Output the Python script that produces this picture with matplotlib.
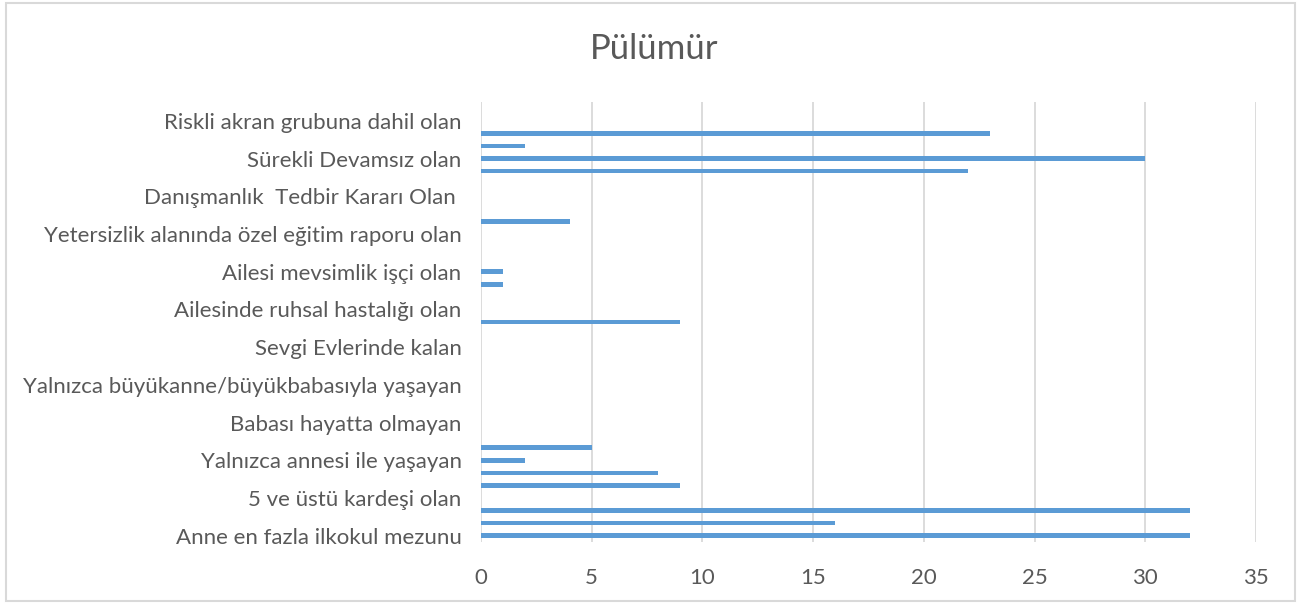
import matplotlib.pyplot as plt
from matplotlib.patches import Rectangle

plt.rcParams['font.family'] = ['Lato', 'DejaVu Sans']

# 35 categories, only every third one has its label shown in the original
categories = [
    "Anne en fazla ilkokul mezunu", "", "",
    "5 ve üstü kardeşi olan", "", "",
    "Yalnızca annesi ile yaşayan", "", "",
    "Babası hayatta olmayan", "", "",
    "Yalnızca büyükanne/büyükbabasıyla yaşayan", "", "",
    "Sevgi Evlerinde kalan", "", "",
    "Ailesinde ruhsal hastalığı olan", "", "",
    "Ailesi mevsimlik işçi olan", "", "",
    "Yetersizlik alanında özel eğitim raporu olan", "", "",
    "Danışmanlık  Tedbir Kararı Olan ", "", "",
    "Sürekli Devamsız olan", "", "",
    "Riskli akran grubuna dahil olan", "",
]
values = [32, 16, 32, 0, 9, 8, 2, 5, 0, 0,
          0, 0, 0, 0, 0, 0, 0, 9, 0, 0,
          1, 1, 0, 0, 0, 4, 0, 0, 0, 22,
          30, 2, 23, 0, 0]
xticks = [0, 5, 10, 15, 20, 25, 30, 35]

text_color = '#595959'
grid_color = '#D9D9D9'
bar_color = '#5B9BD5'

fig = plt.figure(figsize=(13.09, 6.04), dpi=100)
ax = fig.add_axes([481 / 1309, 1 - 542 / 604, (1256 - 481) / 1309, (542 - 102) / 604])

pos = list(range(len(categories)))
ax.barh(pos, values, height=0.36, color=bar_color, zorder=3)

ax.set_xlim(0, 35)
ax.set_ylim(-0.5, len(categories) - 0.5)
ax.set_xticks(xticks)
ax.set_xticklabels([str(t) for t in xticks])
ax.set_yticks(pos)
ax.set_yticklabels(categories)
ax.tick_params(axis='both', length=0, labelsize=16, colors=text_color)
ax.tick_params(axis='x', pad=19)
ax.tick_params(axis='y', pad=14)
ax.grid(axis='x', color=grid_color, linewidth=1.3, zorder=0)
for s in ax.spines.values():
    s.set_visible(False)

fig.text(0.5, 1 - 49 / 604, "Pülümür", ha='center', va='center',
         fontsize=25, color=text_color)

fig.patches.append(Rectangle((6 / 1309, 3 / 604), 1289 / 1309, 598 / 604,
                             transform=fig.transFigure, fill=False,
                             edgecolor=grid_color, linewidth=1.5))

plt.savefig("out.png", dpi=100)
